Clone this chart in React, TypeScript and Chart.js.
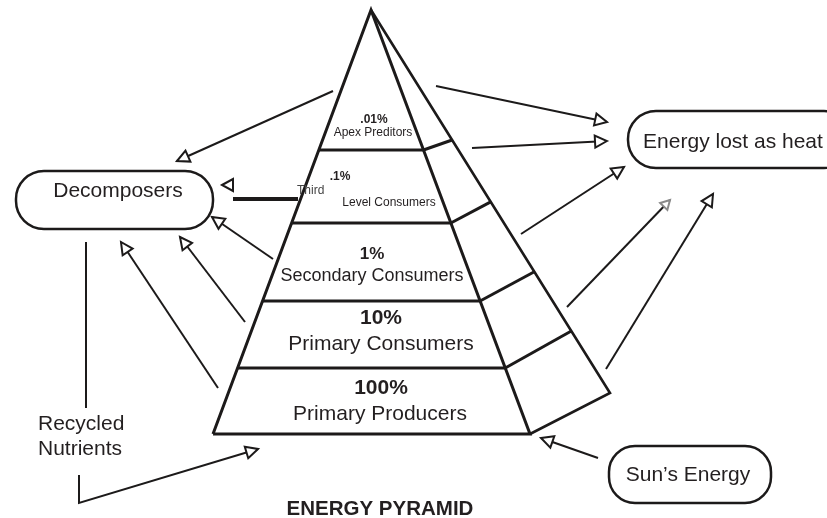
import React, { useEffect, useRef } from 'react';
import { Chart, registerables } from 'chart.js';

Chart.register(...registerables);

const W = 827;
const H = 518;

// ---- Pyramid tiers (bottom to top) ----
const tierPercents = ['100%', '10%', '1%', '.1%', '.01%'];
const tierNames = ['Primary Producers', 'Primary Consumers', 'Secondary Consumers', 'Level Consumers', 'Apex Preditors'];
const tierBottomY = [434, 368, 301, 223, 150];

// ---- Boxes ----
const boxLabels = ['Decomposers', 'Energy lost as heat', "Sun\u2019s Energy"];
const recycledLines = ['Recycled', 'Nutrients'];
const titleText = 'ENERGY PYRAMID';
const thirdText = 'Third';

// ---- Layout geometry (pixels in the 827x518 frame) ----
const apex = { x: 371, y: 10 };
const baseY = 434;
const baseLeftX = 213;
const baseInnerRightX = 530;
const outerCorner = { x: 610, y: 393 };
const sideSlopes = [-0.51, -0.56, -0.54, -0.53, -0.35];

const pctLayout = [
  { x: 381, y: 394, size: 21 },
  { x: 381, y: 324, size: 21 },
  { x: 372, y: 259, size: 17 },
  { x: 340, y: 180, size: 12 },
  { x: 374, y: 123, size: 12 },
];
const nameLayout = [
  { x: 380, y: 420, size: 21 },
  { x: 381, y: 350, size: 21 },
  { x: 372, y: 281, size: 18 },
  { x: 389, y: 206, size: 12 },
  { x: 373, y: 136, size: 12 },
];
const boxLayout = [
  { l: 16, t: 171, r: 213, b: 229, r0: 28, tx: 118, ty: 197 },
  { l: 628, t: 111, r: 852, b: 168, r0: 28, tx: 733, ty: 148 },
  { l: 609, t: 446, r: 771, b: 503, r0: 26, tx: 688, ty: 481 },
];

// arrows: polyline points, last point is the arrow tip
const arrowPaths: number[][][] = [
  [[333, 91], [177, 161]],
  [[273, 259], [212, 217]],
  [[245, 322], [180, 237]],
  [[218, 388], [121, 242]],
  [[436, 86], [607, 122]],
  [[472, 148], [607, 141]],
  [[521, 234], [624, 167]],
  [[606, 369], [713, 194]],
  [[598, 458], [541, 438]],
  [[79, 475], [79, 503], [258, 449]],
];
const fadedArrow: number[][] = [[567, 307], [670, 200]];
const plainLines: number[][][] = [
  [[86, 242], [86, 408]],
];
const thickBar: number[][] = [[233, 199], [298, 199]];
const loneHead: number[][] = [[240, 185], [222, 185]];

const INK = '#1c1a1a';
const TEXT = '#231f20';
const FONT = '"Liberation Sans", Arial, Helvetica, sans-serif';

const lerpX = (x1: number, y1: number, x2: number, y2: number, y: number) =>
  x1 + ((x2 - x1) * (y - y1)) / (y2 - y1);
const leftX = (y: number) => lerpX(apex.x, apex.y, baseLeftX, baseY, y);
const innerX = (y: number) => lerpX(apex.x, apex.y, baseInnerRightX, baseY, y);
const outerPoint = (y: number, s: number) => {
  const xi = innerX(y);
  const k = (outerCorner.x - apex.x) / (outerCorner.y - apex.y);
  const x = (apex.x + k * (y - apex.y - s * xi)) / (1 - k * s);
  return { x, y: y + s * (x - xi) };
};

const seg = (pts: { x: number; y: number }[], width: number, color = INK) => ({
  data: pts,
  showLine: true,
  borderColor: color,
  borderWidth: width,
  pointRadius: 0,
  pointHoverRadius: 0,
  fill: false,
  tension: 0,
  clip: false as any,
  borderJoinStyle: 'miter' as const,
  borderCapStyle: 'butt' as const,
});
const toPts = (arr: number[][]) => arr.map(([x, y]) => ({ x, y }));

function buildDatasets() {
  const ds: any[] = [];
  // pyramid outline
  ds.push(
    seg(
      [
        { x: baseLeftX, y: baseY },
        { x: apex.x, y: apex.y },
        { x: baseInnerRightX, y: baseY },
        { x: baseLeftX, y: baseY },
      ],
      3
    )
  );
  ds.push(
    seg(
      [
        { x: apex.x, y: apex.y },
        { x: outerCorner.x, y: outerCorner.y },
        { x: baseInnerRightX, y: baseY },
      ],
      2.6
    )
  );
  tierBottomY.forEach((y, i) => {
    if (i === 0) return;
    ds.push(seg([{ x: leftX(y), y }, { x: innerX(y), y }], 3));
    ds.push(seg([{ x: innerX(y), y }, outerPoint(y, sideSlopes[i])], 3));
  });
  arrowPaths.forEach((p) => ds.push(seg(toPts(p), 2)));
  ds.push(seg(toPts(fadedArrow), 2));
  plainLines.forEach((p) => ds.push(seg(toPts(p), 2)));
  ds.push(seg(toPts(thickBar), 4));
  return ds;
}

const drawPlugin = {
  id: 'diagram',
  afterDatasetsDraw(chart: any) {
    const ctx: CanvasRenderingContext2D = chart.ctx;
    const xs = chart.scales.x;
    const ys = chart.scales.y;
    const px = (x: number) => xs.getPixelForValue(x);
    const py = (y: number) => ys.getPixelForValue(y);

    const head = (from: number[], tip: number[], len: number, half: number, color: string) => {
      const fx = px(from[0]), fy = py(from[1]);
      const tx = px(tip[0]), ty = py(tip[1]);
      const dx = tx - fx, dy = ty - fy;
      const d = Math.hypot(dx, dy) || 1;
      const ux = dx / d, uy = dy / d;
      const bx = tx - ux * len, by = ty - uy * len;
      ctx.save();
      ctx.beginPath();
      ctx.moveTo(tx, ty);
      ctx.lineTo(bx - uy * half, by + ux * half);
      ctx.lineTo(bx + uy * half, by - ux * half);
      ctx.closePath();
      ctx.fillStyle = '#ffffff';
      ctx.fill();
      ctx.strokeStyle = color;
      ctx.lineWidth = 2;
      ctx.lineJoin = 'miter';
      ctx.stroke();
      ctx.restore();
    };

    arrowPaths.forEach((p) => head(p[p.length - 2], p[p.length - 1], 12, 6, INK));
    head(fadedArrow[0], fadedArrow[1], 9, 5, '#8a8a8a');
    head(loneHead[0], loneHead[1], 11, 6, INK);

    // capsules
    boxLayout.forEach((b, i) => {
      ctx.save();
      ctx.beginPath();
      const x = px(b.l), y = py(b.t), w = px(b.r) - px(b.l), h = py(b.b) - py(b.t);
      (ctx as any).roundRect(x, y, w, h, b.r0);
      ctx.fillStyle = '#ffffff';
      ctx.fill();
      ctx.strokeStyle = INK;
      ctx.lineWidth = 2.5;
      ctx.stroke();
      ctx.fillStyle = TEXT;
      ctx.font = `21px ${FONT}`;
      ctx.textAlign = 'center';
      ctx.textBaseline = 'alphabetic';
      ctx.fillText(boxLabels[i], px(b.tx), py(b.ty));
      ctx.restore();
    });

    const text = (s: string, x: number, y: number, size: number, bold: boolean, align: CanvasTextAlign = 'center', color = TEXT) => {
      ctx.save();
      ctx.fillStyle = color;
      ctx.font = `${bold ? 'bold ' : ''}${size}px ${FONT}`;
      ctx.textAlign = align;
      ctx.textBaseline = 'alphabetic';
      ctx.fillText(s, px(x), py(y));
      ctx.restore();
    };

    tierPercents.forEach((p, i) => text(p, pctLayout[i].x, pctLayout[i].y, pctLayout[i].size, true));
    tierNames.forEach((n, i) => text(n, nameLayout[i].x, nameLayout[i].y, nameLayout[i].size, false));
    text(thirdText, 297, 194, 12, false, 'left', '#444');
    text(recycledLines[0], 38, 430, 21, false, 'left');
    text(recycledLines[1], 38, 455, 21, false, 'left');
    text(titleText, 380, 515, 20.5, true);
  },
};

export default function App() {
  const ref = useRef<HTMLCanvasElement>(null);
  useEffect(() => {
    document.body.style.margin = '0';
    const chart = new Chart(ref.current as HTMLCanvasElement, {
      type: 'scatter',
      data: { datasets: buildDatasets() },
      options: {
        animation: false,
        responsive: false,
        maintainAspectRatio: false,
        layout: { padding: 0 },
        events: [],
        plugins: {
          legend: { display: false },
          tooltip: { enabled: false },
          title: { display: false },
        },
        scales: {
          x: { type: 'linear', min: 0, max: W, display: false },
          y: { type: 'linear', min: 0, max: H, reverse: true, display: false },
        },
      },
      plugins: [drawPlugin],
    });
    return () => chart.destroy();
  }, []);
  return (
    <div style={{ width: W, height: H, background: '#fff' }}>
      <canvas ref={ref} width={W} height={H} style={{ display: 'block' }} />
    </div>
  );
}
